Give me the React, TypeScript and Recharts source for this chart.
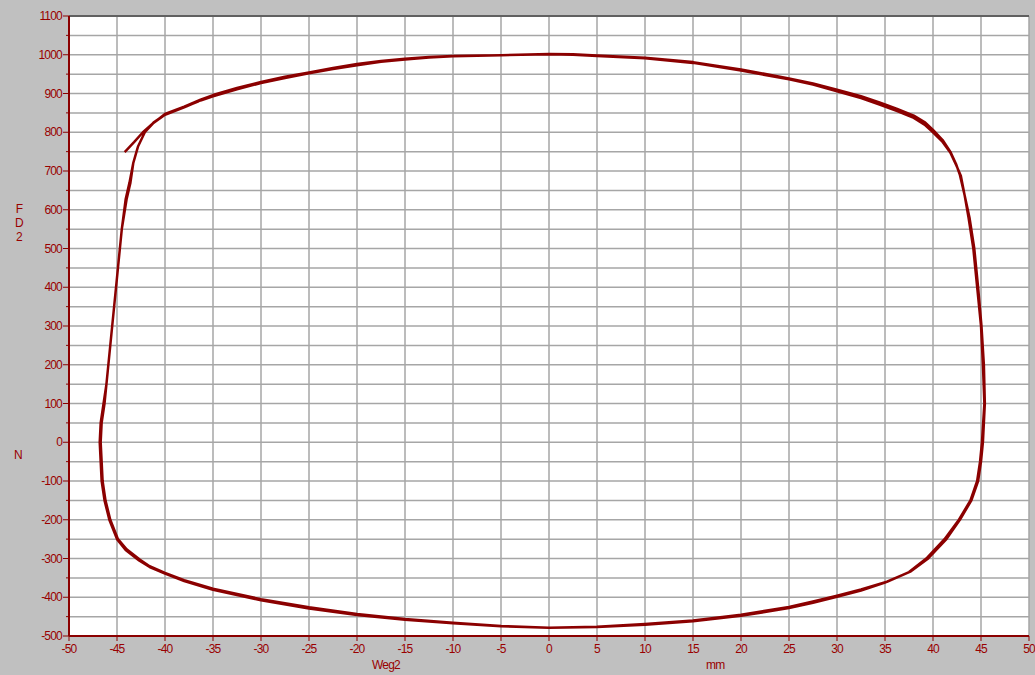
import React from 'react';
import {
  LineChart,
  Line,
  XAxis,
  YAxis,
  CartesianGrid,
  ReferenceLine,
} from 'recharts';

// mm / N pairs, start of the trace (thin tail on the left)
const startTail = [
  [-44.2, 749], [-43.2, 775], [-42.3, 800], [-41.3, 822],
];

// first full cycle, clockwise
const cycle1 = [
  [-40, 847], [-38, 866], [-36.3, 884], [-35, 896], [-32.5, 914], [-30, 930], [-27.5, 943], [-25, 954],
  [-22.5, 966], [-20, 976], [-17.5, 984], [-15, 990], [-12.5, 994], [-10, 997], [-5, 999], [0, 1002],
  [2.5, 1001], [5, 998], [10, 992], [15, 981], [20, 962], [25, 939], [27.5, 926], [30, 910],
  [32.5, 893], [34.5, 876], [36.2, 861], [38, 843], [39.2, 825], [40, 806], [41, 780], [41.8, 750],
  [42.4, 718], [42.8, 690], [43.3, 637], [43.7, 580], [44.2, 500], [44.6, 400], [45, 300], [45.2, 200],
  [45.35, 100], [45.1, 0], [44.9, -50], [44.6, -100], [43.9, -150], [42.7, -200], [41.2, -250], [39.3, -300],
  [37.5, -335], [35, -362], [32.5, -383], [30, -399], [27.5, -414], [25, -428], [20, -448], [15, -462],
  [10, -471], [5, -477], [0, -479], [-5, -474], [-10, -466], [-15, -456], [-20, -443], [-25, -426],
  [-30, -405], [-35, -378], [-38, -356], [-40, -337], [-41.6, -320], [-42.6, -303], [-44, -276], [-44.9, -250],
  [-45.7, -200], [-46.2, -150], [-46.5, -100], [-46.6, -50], [-46.7, 0], [-46.6, 50], [-46.3, 100], [-46.1, 150],
  [-45.7, 250], [-45.3, 350], [-44.9, 450], [-44.5, 550], [-44, 627], [-43.6, 670], [-43.3, 721], [-42.8, 764],
  [-42.1, 800], [-41.2, 824],
];

// second cycle, slightly shifted strands
const cycle2 = [
  [-40, 845], [-38, 864], [-36.3, 882], [-35, 893], [-32.5, 911], [-30, 927], [-27.5, 940], [-25, 952],
  [-22.5, 963], [-20, 973], [-17.5, 982], [-15, 988], [-12.5, 993], [-10, 996], [-5, 999], [0, 1001],
  [2.5, 1000], [5, 997], [10, 991], [15, 979], [20, 959], [25, 937], [27.5, 923], [30, 906],
  [32.5, 888], [34.5, 871], [36.2, 855], [38, 837], [39.2, 818], [40, 800], [41, 775], [41.8, 748],
  [42.4, 716], [42.9, 688], [43.3, 637], [43.8, 580], [44.3, 500], [44.7, 400], [45.05, 300], [45.3, 200],
  [45.4, 100], [45.2, 0], [45, -50], [44.7, -100], [44, -150], [42.8, -200], [41.4, -250], [39.5, -300],
  [37.7, -333], [35.2, -360], [32.5, -380], [30, -396], [27.5, -411], [25, -425], [20, -445], [15, -460],
  [10, -469], [5, -476], [0, -479], [-5, -475], [-10, -467], [-15, -458], [-20, -446], [-25, -429],
  [-30, -408], [-35, -381], [-38, -358], [-40, -339], [-41.6, -322], [-42.7, -305], [-44.1, -278], [-45, -250],
  [-45.8, -200], [-46.3, -150], [-46.6, -100], [-46.7, -50], [-46.8, 0], [-46.7, 50], [-46.4, 100], [-46.1, 150],
  [-45.7, 250], [-45.3, 350], [-44.9, 450], [-44.5, 550], [-44.1, 627], [-43.7, 670], [-43.3, 721], [-42.8, 764],
  [-42.1, 800], [-41.2, 825], [-40, 846], [-38, 865], [-36.5, 880],
];

const xTicks = [-50, -45, -40, -35, -30, -25, -20, -15, -10, -5, 0, 5, 10, 15, 20, 25, 30, 35, 40, 45, 50];
const xMinorTicks = Array.from({ length: 101 }, (_, i) => i - 50);
// every 50 N gets a grid line, every 100 N a label
const yTicks = Array.from({ length: 33 }, (_, i) => i * 50 - 500);

const trace = [...startTail, ...cycle1, ...cycle2].map(([x, y]) => ({ x, y }));

const RED = '#8b0000';
const TEXT = '#990000';
const font = '"Liberation Sans", Arial, sans-serif';
const tickStyle = { fill: TEXT, fontSize: 12, fontFamily: font, letterSpacing: -0.8 };

const labelStyle: React.CSSProperties = {
  position: 'absolute',
  color: TEXT,
  fontFamily: font,
  fontSize: 12,
  letterSpacing: -0.8,
  lineHeight: '14px',
};

const EmptyTick = () => <g />;

const YTick = (props: any) => {
  const { x, y, payload } = props;
  const major = payload.value % 100 === 0;
  return (
    <g>
      <line x1={x + 1 + (major ? 0 : 3)} x2={x + 7} y1={y} y2={y} stroke={RED} strokeWidth={1} />
      {major && (
        <text x={x} y={y} dy={4} textAnchor="end" {...tickStyle}>
          {payload.value}
        </text>
      )}
    </g>
  );
};

export default function App() {
  return (
    <div style={{ position: 'absolute', left: 0, top: 0, width: 1035, height: 675, background: '#c0c0c0' }}>
      <LineChart width={1035} height={675} data={trace} margin={{ top: 16, right: 6, bottom: 0, left: 0 }}>
        <XAxis
          xAxisId="minor"
          type="number"
          dataKey="x"
          domain={[-50, 50]}
          ticks={xMinorTicks}
          interval={0}
          height={0}
          tick={EmptyTick}
          tickSize={3}
          axisLine={false}
          tickLine={{ stroke: RED }}
          allowDataOverflow
        />
        <XAxis
          xAxisId="main"
          type="number"
          dataKey="x"
          domain={[-50, 50]}
          ticks={xTicks}
          interval={0}
          height={39}
          tickSize={5}
          tickMargin={3}
          stroke={RED}
          axisLine={{ stroke: RED, strokeWidth: 2 }}
          tick={tickStyle}
          allowDataOverflow
        />
        <YAxis
          yAxisId="main"
          type="number"
          domain={[-500, 1100]}
          ticks={yTicks}
          interval={0}
          width={69}
          tickSize={6}
          tickMargin={1}
          tickLine={false}
          axisLine={{ stroke: RED, strokeWidth: 2 }}
          tick={YTick}
          allowDataOverflow
        />
        <CartesianGrid
          xAxisId="main"
          yAxisId="main"
          stroke="#a6a6a6"
          strokeWidth={1.5}
          fill="#ffffff"
          fillOpacity={1}
        />
        <ReferenceLine xAxisId="main" yAxisId="main" y={1100} stroke="#606060" strokeWidth={2} />
        <Line
          xAxisId="main"
          yAxisId="main"
          dataKey="y"
          type="linear"
          stroke={RED}
          strokeWidth={2.5}
          strokeLinejoin="round"
          dot={false}
          activeDot={false}
          isAnimationActive={false}
        />
      </LineChart>
      <div style={{ ...labelStyle, left: 14, top: 202, textAlign: 'center', width: 10 }}>
        F<br />D<br />2
      </div>
      <div style={{ ...labelStyle, left: 14, top: 448 }}>N</div>
      <div style={{ ...labelStyle, left: 372, top: 658 }}>Weg2</div>
      <div style={{ ...labelStyle, left: 706, top: 658 }}>mm</div>
    </div>
  );
}
